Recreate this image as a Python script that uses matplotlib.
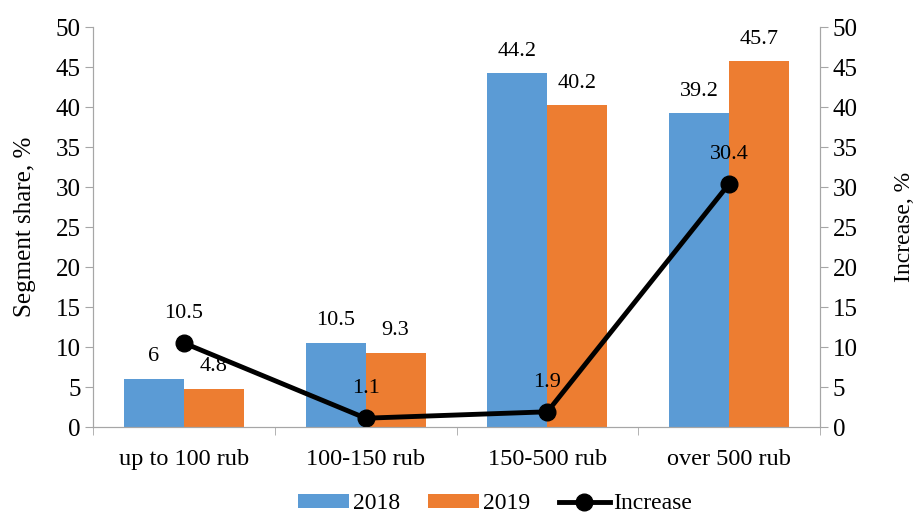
import matplotlib.pyplot as plt
import numpy as np

plt.rcParams['font.family'] = ['Liberation Serif', 'DejaVu Serif']

categories = ['up to 100 rub', '100-150 rub', '150-500 rub', 'over 500 rub']
share_2018 = [6, 10.5, 44.2, 39.2]
share_2019 = [4.8, 9.3, 40.2, 45.7]
increase = [10.5, 1.1, 1.9, 30.4]

c18 = '#5b9bd5'
c19 = '#ed7d31'
grey = '#a6a6a6'

fig = plt.figure(figsize=(9.15, 5.16), dpi=100)
ax = fig.add_axes([93/915, 89/516, 727/915, 400/516])
ax2 = ax.twinx()

x = np.arange(len(categories))
w = 0.33
b1 = ax.bar(x - w/2, share_2018, w, color=c18, label='2018')
b2 = ax.bar(x + w/2, share_2019, w, color=c19, label='2019')
for xi, v in zip(x, share_2018):
    ax.text(xi - w/2, v + 1.6, f'{v:g}', ha='center', va='bottom', fontsize=16)
for xi, v in zip(x, share_2019):
    ax.text(xi + w/2, v + 1.6, f'{v:g}', ha='center', va='bottom', fontsize=16)

ln, = ax2.plot(x, increase, color='black', lw=3.5, marker='o', ms=12,
               mfc='black', mec='black', label='Increase')
for xi, v in zip(x, increase):
    ax2.text(xi, v + 2.5, f'{v:g}', ha='center', va='bottom', fontsize=16)

for a in (ax, ax2):
    a.set_ylim(0, 50)
    a.set_yticks(range(0, 51, 5))
    a.tick_params(axis='y', labelsize=18, color=grey, length=6, pad=3)
    for s in a.spines.values():
        s.set_color(grey)
    a.spines['top'].set_visible(False)
ax.set_xlim(-0.5, 3.5)
ax.set_xticks(x)
ax.set_xticklabels(categories, fontsize=17.5)
ax.tick_params(axis='x', length=0, pad=16)
ax.set_xticks(np.arange(-0.5, 4, 1), minor=True)
ax.tick_params(axis='x', which='minor', length=6, color=grey)

ax.set_ylabel('Segment share, %', fontsize=18, labelpad=14)
ax2.set_ylabel('Increase, %', fontsize=17, labelpad=26)

fig.legend(handles=[b1, b2, ln], labels=['2018', '2019', 'Increase'],
           loc='lower center', bbox_to_anchor=(0.541, -0.038), ncol=3, frameon=False,
           fontsize=17, handlelength=2.16, handleheight=0.55, columnspacing=1.2,
           handletextpad=0.17)

fig.savefig('out.png', dpi=100)
